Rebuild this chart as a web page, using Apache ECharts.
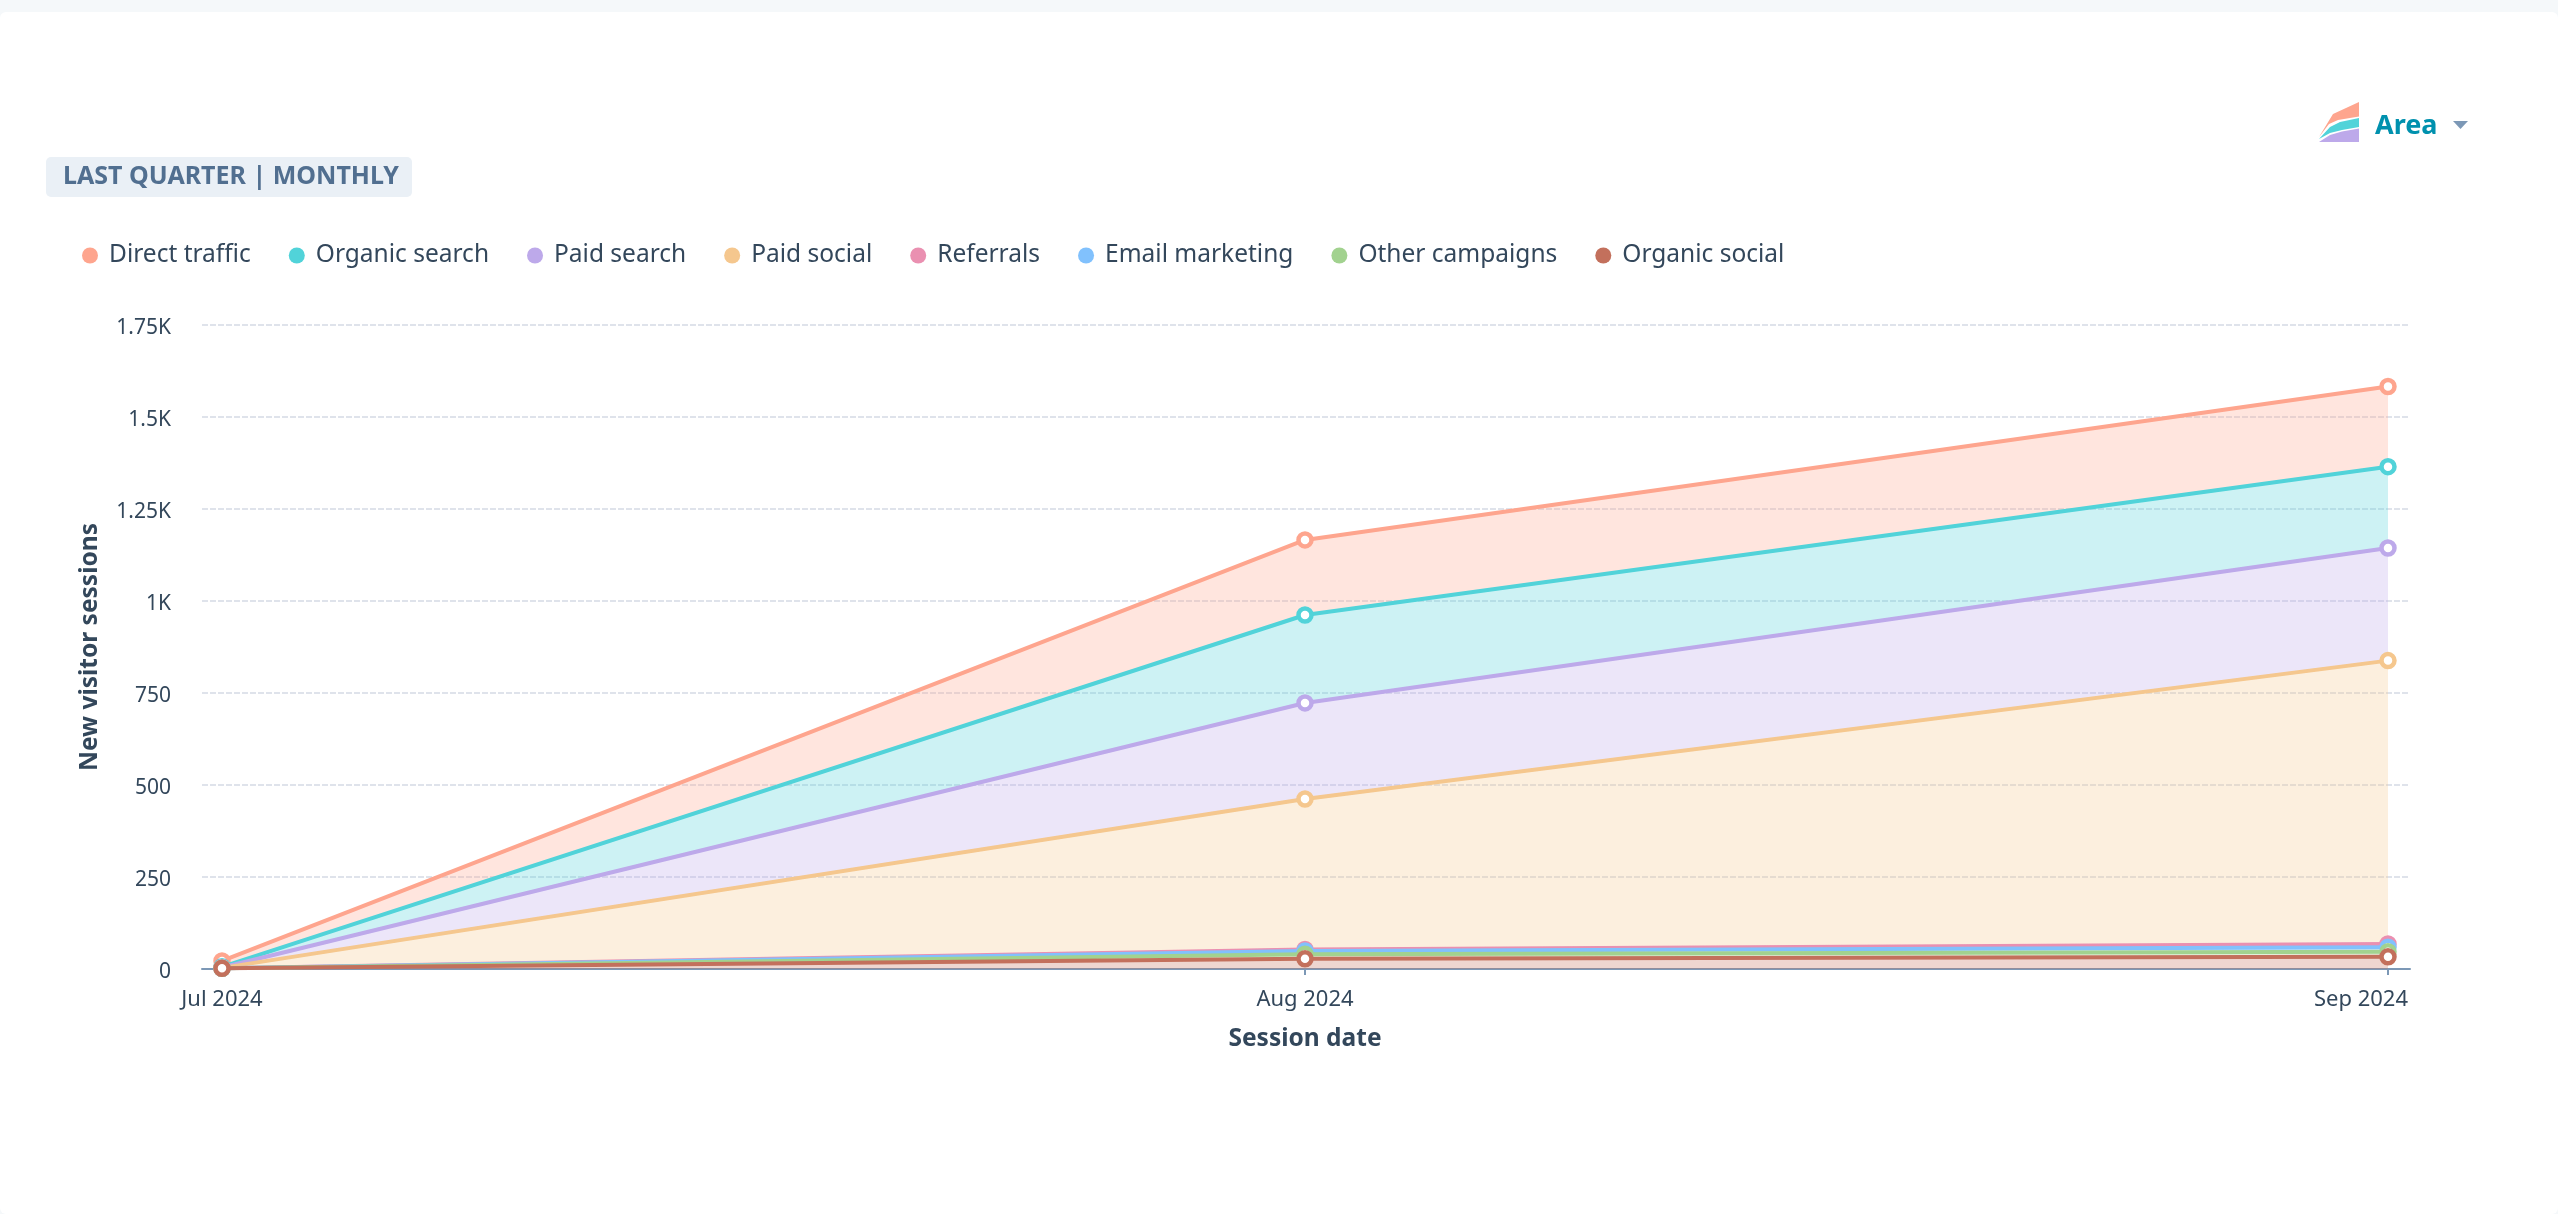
<!DOCTYPE html>
<html>
<head>
<meta charset="utf-8">
<title>New visitor sessions</title>
<script src="https://cdn.jsdelivr.net/npm/echarts@6/dist/echarts.min.js"></script>
<style>
    html, body { margin: 0; padding: 0; width: 100%; height: 100%; background: #f5f8fa; overflow: hidden; }
    #card { position: absolute; left: 0; right: 0; top: 12px; bottom: 0; background: #fff; border-radius: 6px; }
    #chart { position: absolute; left: 0; top: 0; width: 2558px; height: 1214px; }
</style>
</head>
<body>
<div id="card"></div>
<div id="chart"></div>
<script>
// months along the x axis
const months = ['Jul 2024', 'Aug 2024', 'Sep 2024'];
const yTickLabels = ['0', '250', '500', '750', '1K', '1.25K', '1.5K', '1.75K'];

// legend order, first one is on top of the stack
const sourceNames = ['Direct traffic', 'Organic search', 'Paid search', 'Paid social', 'Referrals', 'Email marketing', 'Other campaigns', 'Organic social'];
const sourceColors = ['#fea58e', '#51d3d9', '#bda9ea', '#f5c78e', '#ea90b1', '#81c1fd', '#a2d28f', '#c3705c'];

const directTraffic = [16, 204, 218];
const organicSearch = [2, 239, 221];
const paidSearch = [1, 261, 306];
const paidSocial = [1, 409, 770];
const referrals = [0, 4, 9];
const emailMarketing = [0, 9, 12];
const otherCampaigns = [0, 12, 14];
const organicSocial = [2, 28, 33];

const sourceValues = [directTraffic, organicSearch, paidSearch, paidSocial, referrals, emailMarketing, otherCampaigns, organicSocial];

const labelFont = 'Noto Sans';
const textColor = '#33475b';

function initChart() {
    const chart = echarts.init(document.getElementById('chart'));

    // stack goes bottom up, so walk the legend list backwards
    const series = [];
    for (let i = sourceNames.length - 1; i >= 0; i--) {
        series.push({
            name: sourceNames[i],
            type: 'line',
            stack: 'sessions',
            xAxisIndex: 1,
            yAxisIndex: 1,
            data: sourceValues[i],
            color: sourceColors[i],
            z: 10 + i,
            clip: false,
            symbol: 'circle',
            symbolSize: 13,
            showAllSymbol: true,
            lineStyle: { width: 4, color: sourceColors[i] },
            itemStyle: { color: '#fff', borderColor: sourceColors[i], borderWidth: 4.5 },
            areaStyle: { color: sourceColors[i], opacity: 0.29 },
            animation: false
        });
    }

    const option = {
        textStyle: { fontFamily: labelFont },
        animation: false,
        legend: {
            data: sourceNames.map((n, i) => ({ name: n, itemStyle: { color: sourceColors[i], borderWidth: 0 } })),
            left: 82,
            top: 243,
            padding: 0,
            icon: 'circle',
            itemWidth: 16,
            itemHeight: 16,
            itemGap: 38,
            textStyle: { fontFamily: labelFont, fontSize: 24.5, color: textColor, padding: [0, 0, 0, 6] }
        },
        // first grid carries the long axis line and gridlines, second one the points, inset a bit
        grid: [
            { left: 202, right: 148, top: 325, bottom: 245 },
            { left: 222, right: 170, top: 325, bottom: 245 }
        ],
        xAxis: [
            {
                gridIndex: 0,
                type: 'value',
                min: 0,
                max: 1,
                axisLine: { show: true, lineStyle: { color: '#7c98b6', width: 2 } },
                axisTick: { show: false },
                axisLabel: { show: false },
                splitLine: { show: false }
            },
            {
                gridIndex: 1,
                type: 'category',
                boundaryGap: false,
                data: months,
                name: 'Session date',
                nameLocation: 'middle',
                nameGap: 58,
                nameTextStyle: { fontFamily: labelFont, fontSize: 24.5, fontWeight: 'bold', color: textColor },
                axisLine: { show: false },
                axisTick: { show: true, length: 6, lineStyle: { color: '#7c98b6', width: 2 } },
                axisLabel: {
                    interval: 0,
                    formatter: (v, i) => i === months.length - 1 ? '{last|' + v + '}' : v,
                    rich: { last: { padding: [0, 54, 0, 0], fontFamily: labelFont, fontSize: 22, color: textColor } },
                    margin: 20,
                    fontFamily: labelFont,
                    fontSize: 22,
                    color: textColor
                }
            }
        ],
        yAxis: [
            {
                gridIndex: 0,
                type: 'value',
                min: 0,
                max: 1750,
                interval: 250,
                name: 'New visitor sessions',
                nameLocation: 'middle',
                nameGap: 99,
                nameTextStyle: { fontFamily: labelFont, fontSize: 24.5, fontWeight: 'bold', color: textColor },
                axisLine: { show: false },
                axisTick: { show: false },
                splitLine: { lineStyle: { color: '#dfe3eb', width: 2, type: [6, 2] } },
                axisLabel: {
                    formatter: v => yTickLabels[v / 250],
                    margin: 31,
                    // labels sit a little under their gridline
                    verticalAlign: 'top',
                    lineHeight: 6,
                    fontFamily: labelFont,
                    fontSize: 21,
                    color: textColor
                }
            },
            {
                gridIndex: 1,
                type: 'value',
                min: 0,
                max: 1750,
                interval: 250,
                show: false
            }
        ],
        series: series,
        graphic: [
            // period badge
            { type: 'rect', left: 46, top: 157, shape: { width: 366, height: 40, r: 5 }, style: { fill: '#eaf0f6' } },
            { type: 'text', left: 63, top: 164, style: { text: 'LAST QUARTER | MONTHLY', fill: '#516f90', font: 'bold 25px "Noto Sans"' } },
            // chart type switch
            { type: 'polygon', shape: { points: [[2319, 137], [2333, 114], [2359, 102], [2359, 116.5], [2338, 120], [2329, 124]] }, style: { fill: '#fea58e' } },
            { type: 'polygon', shape: { points: [[2319, 139], [2330, 127], [2340, 122], [2359, 118], [2359, 127], [2342, 130], [2330, 133]] }, style: { fill: '#51d3d9' } },
            { type: 'polygon', shape: { points: [[2319, 142], [2330, 135], [2342, 131.5], [2359, 128.5], [2359, 142]] }, style: { fill: '#bda9ea' } },
            { type: 'text', left: 2375, top: 113, style: { text: 'Area', fill: '#0091ae', font: 'bold 27px "Noto Sans"' } },
            { type: 'polygon', shape: { points: [[2453, 121], [2468, 121], [2460.5, 129]] }, style: { fill: '#7c98b6' } }
        ]
    };

    chart.setOption(option);
    window.addEventListener('resize', () => chart.resize());
}

document.addEventListener('DOMContentLoaded', initChart);
</script>
</body>
</html>
